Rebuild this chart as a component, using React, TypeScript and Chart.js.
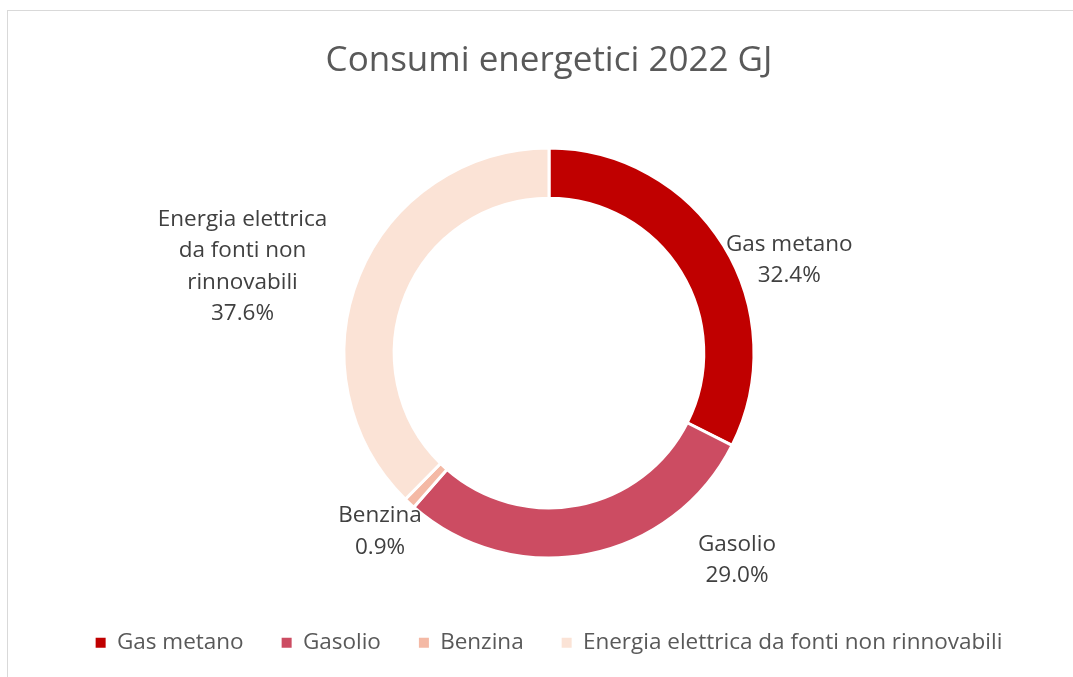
import React, { useEffect, useRef } from "react";
import { Chart, registerables } from "chart.js";

Chart.register(...registerables);

const categories = ["Gas metano", "Gasolio", "Benzina", "Energia elettrica da fonti non rinnovabili"];
const values = [32.4, 29.0, 0.9, 37.6];
const colors = ["#C00000", "#CC4C62", "#F4B9A5", "#FBE3D6"];
const labelNameLines = [["Gas metano"], ["Gasolio"], ["Benzina"], ["Energia elettrica", "da fonti non", "rinnovabili"]];
// label block centres relative to the doughnut centre, in units of outer radius
const labelOffsets = [
  [1.172, -0.453],
  [0.917, 1.01],
  [-0.824, 0.87],
  [-1.495, -0.422],
];

const FONT = "'Open Sans', 'Noto Sans', sans-serif";

const labelPlugin = {
  id: "sliceLabels",
  afterDatasetsDraw(chart: any) {
    const meta = chart.getDatasetMeta(0);
    const ctx = chart.ctx;
    const total = values.reduce((a, b) => a + b, 0);
    ctx.save();
    ctx.font = `22.5px ${FONT}`;
    ctx.fillStyle = "#404040";
    ctx.textAlign = "center";
    ctx.textBaseline = "middle";
    const lh = 31.5;
    meta.data.forEach((arc: any, i: number) => {
      const r = arc.outerRadius;
      const cx = arc.x + labelOffsets[i][0] * r;
      const cy = arc.y + labelOffsets[i][1] * r;
      const lines = [...labelNameLines[i], ((values[i] / total) * 100).toFixed(1) + "%"];
      const startY = cy - ((lines.length - 1) * lh) / 2;
      lines.forEach((ln, k) => ctx.fillText(ln, cx, startY + k * lh));
    });
    ctx.restore();
  },
};

export default function App() {
  const ref = useRef<HTMLCanvasElement>(null);
  useEffect(() => {
    if (!ref.current) return;
    const defaultGen = (Chart as any).overrides.doughnut.plugins.legend.labels.generateLabels;
    const chart = new Chart(ref.current, {
      type: "doughnut",
      data: {
        labels: categories,
        datasets: [
          {
            data: values,
            backgroundColor: colors,
            borderColor: "#ffffff",
            borderWidth: 3,
            hoverOffset: 0,
          },
        ],
      },
      options: {
        responsive: false,
        animation: false,
        radius: 205,
        cutout: "75.5%",
        layout: { padding: { left: 25, right: 0, top: 0, bottom: 13 } },
        plugins: {
          tooltip: { enabled: false },
          title: {
            display: true,
            text: "Consumi energetici 2022 GJ",
            color: "#595959",
            font: { family: FONT, size: 35, weight: "normal" },
            padding: { top: 40, bottom: 30.6 },
          },
          legend: {
            display: true,
            position: "bottom",
            labels: {
              color: "#595959",
              font: { family: FONT, size: 22.5 },
              boxWidth: 10,
              boxHeight: 10,
              padding: 38,
              generateLabels: (c: any) =>
                defaultGen(c).map((l: any) => ({ ...l, lineWidth: 0, strokeStyle: l.fillStyle })),
            },
          },
        },
      } as any,
      plugins: [labelPlugin],
    });
    return () => chart.destroy();
  }, []);
  return (
    <div style={{ position: "fixed", left: 0, top: 0, width: 1073, height: 677, background: "#fff", overflow: "hidden" }}>
      <div
        style={{
          position: "absolute",
          left: 7,
          top: 10,
          width: 1100,
          height: 700,
          border: "1px solid #d9d9d9",
        }}
      />
      <canvas ref={ref} width={1073} height={677} style={{ position: "absolute", left: 0, top: 0, width: 1073, height: 677 }} />
    </div>
  );
}
